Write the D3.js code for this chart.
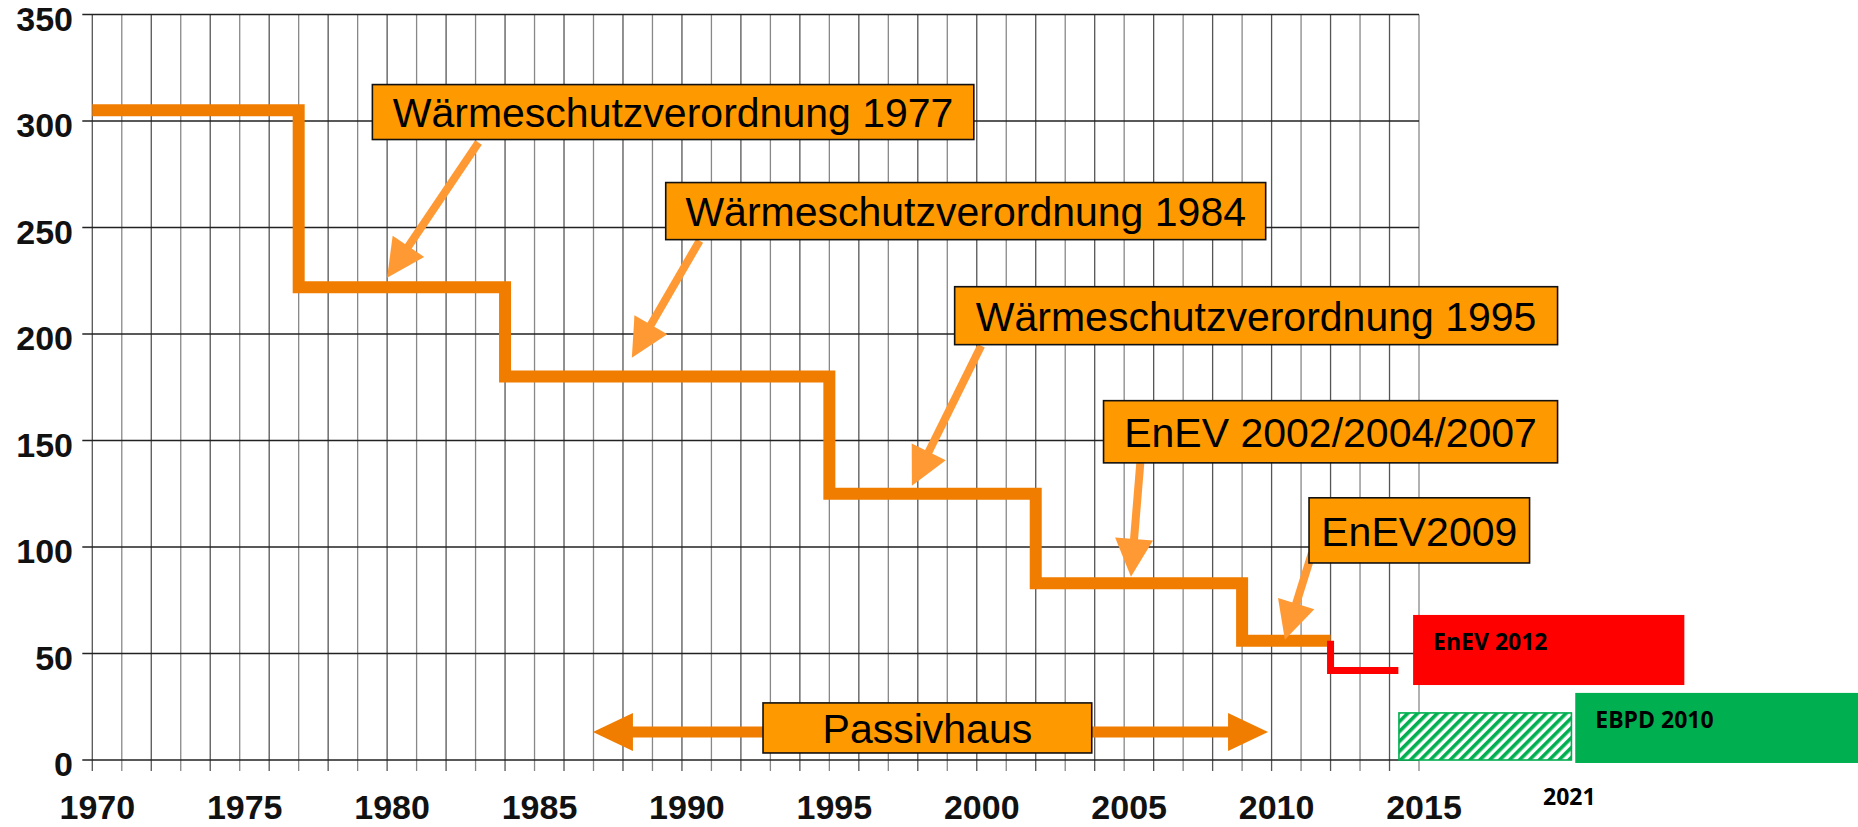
<!DOCTYPE html>
<html>
<head>
<meta charset="utf-8">
<script src="https://cdn.jsdelivr.net/npm/d3@7"></script>
<style>
  html, body { margin: 0; padding: 0; background: #fff; }
  svg { display: block; }
</style>
</head>
<body>
<svg id="chart" width="1858" height="827"></svg>
<script>
// Heizwärmebedarf nach Verordnung (kWh/m²a), Stufe gilt ab dem Jahr
const stepYears = [1970, 1977, 1984, 1995, 2002, 2009, 2012];
const stepValues = [305, 222, 180, 125, 83, 56, 56];
const enev2012Years = [2012, 2012, 2014.3];
const enev2012Values = [56, 42, 42];

const yTicks = [0, 50, 100, 150, 200, 250, 300, 350];
const xLabels = [1970, 1975, 1980, 1985, 1990, 1995, 2000, 2005, 2010, 2015];

// callouts: text, box [year from, year to, value top, value bottom], arrow [year, value -> year, value]
const calloutLabels = ["Wärmeschutzverordnung 1977", "Wärmeschutzverordnung 1984",
  "Wärmeschutzverordnung 1995", "EnEV 2002/2004/2007", "EnEV2009"];
const calloutBoxes = [[1979.5, 1999.9, 317.1, 291.3], [1989.45, 2009.8, 271.1, 244.3],
  [1999.25, 2019.7, 222.2, 195.0], [2004.3, 2019.7, 168.7, 139.5], [2011.27, 2018.75, 123.1, 92.5]];
const calloutArrows = [[1983.1, 289.9, 1980.0, 226.4], [1990.6, 243.8, 1988.3, 188.9],
  [2000.15, 194.5, 1997.8, 128.7], [2005.55, 140.0, 2005.23, 86.0], [2011.37, 97.2, 2010.45, 56.4]];

const passivLabel = "Passivhaus";
const passivBox = [1992.75, 2003.9, 26.8, 3.3];
const passivArrowTips = [1986.98, 2009.88];
const passivArrowValue = 13.2;

// rechte Seite
const enevBoxLabel = "EnEV 2012";
const enevBox = [2014.8, 2024.0, 68.1, 35.2];
const ebpdLabel = "EBPD 2010";
const ebpdBox = [2020.3, 2030.2, 31.5, -1.4];
const hatchBox = [2014.32, 2020.17, 22.1, 0];
const yearNote = "2021";
const yearNoteAt = 2020.1;

const svg = d3.select('#chart');
const x = d3.scaleLinear().domain([1970, 2015]).range([92.3, 1419]);
const y = d3.scaleLinear().domain([0, 350]).range([760, 14.5]);
const allYears = d3.range(1970, 2016);

const grid = svg.append('g');
grid.selectAll('line.v').data(allYears).enter().append('line')
  .attr('class', 'v')
  .attr('x1', d => x(d)).attr('x2', d => x(d))
  .attr('y1', y(350)).attr('y2', y(0) + 11)
  .attr('stroke', d => (d % 2 === 0 ? '#555' : '#888'))
  .attr('stroke-width', 1.3);
grid.selectAll('line.h').data(yTicks).enter().append('line')
  .attr('class', 'h')
  .attr('x1', x(1970) - 10).attr('x2', x(2015))
  .attr('y1', d => y(d)).attr('y2', d => y(d))
  .attr('stroke', '#222')
  .attr('stroke-width', 1.3);

const axisFont = '"Liberation Sans", Arial, sans-serif';
svg.append('g').selectAll('text').data(yTicks).enter().append('text')
  .attr('x', 73).attr('y', d => y(d) + 16)
  .attr('text-anchor', 'end')
  .style('font-family', axisFont).style('font-weight', 'bold').style('font-size', '34px')
  .attr('fill', '#111')
  .text(d => d);
svg.append('g').selectAll('text').data(xLabels).enter().append('text')
  .attr('x', d => x(d) + 5).attr('y', 819)
  .attr('text-anchor', 'middle')
  .style('font-family', axisFont).style('font-weight', 'bold').style('font-size', '34px')
  .attr('fill', '#111')
  .text(d => d);

// Stufenlinie
const stepLine = d3.line().x(d => x(d[0])).y(d => y(d[1])).curve(d3.curveStepAfter);
svg.append('path')
  .datum(stepYears.map((yr, i) => [yr, stepValues[i]]))
  .attr('d', stepLine)
  .attr('fill', 'none').attr('stroke', '#F07D00')
  .attr('stroke-width', 12).attr('stroke-linejoin', 'miter');
svg.append('path')
  .datum(enev2012Years.map((yr, i) => [yr, enev2012Values[i]]))
  .attr('d', d3.line().x(d => x(d[0])).y(d => y(d[1])))
  .attr('fill', 'none').attr('stroke', '#FF0000')
  .attr('stroke-width', 7).attr('stroke-linejoin', 'miter');

function arrow(g, x1, y1, x2, y2, shaft, headLen, headW, color) {
  let dx = x2 - x1, dy = y2 - y1, len = Math.hypot(dx, dy);
  let ux = dx / len, uy = dy / len, nx = -uy, ny = ux;
  let bx = x2 - ux * headLen, by = y2 - uy * headLen;
  g.append('line')
    .attr('x1', x1).attr('y1', y1).attr('x2', bx + ux * 2).attr('y2', by + uy * 2)
    .attr('stroke', color).attr('stroke-width', shaft);
  g.append('polygon')
    .attr('points', [[x2, y2], [bx + nx * headW / 2, by + ny * headW / 2], [bx - nx * headW / 2, by - ny * headW / 2]].map(p => p.join(',')).join(' '))
    .attr('fill', color);
}

const labelFont = '"Liberation Sans", Arial, sans-serif';
const arrows = svg.append('g');
calloutArrows.forEach(a => {
  arrow(arrows, x(a[0]), y(a[1]), x(a[2]), y(a[3]), 8, 38, 38, '#FF9933');
});
passivArrowTips.forEach((tip, i) => {
  let from = i === 0 ? passivBox[0] : passivBox[1];
  arrow(arrows, x(from), y(passivArrowValue), x(tip), y(passivArrowValue), 11, 40, 38, '#F07D00');
});

function box(g, b, label, fs) {
  let x0 = x(b[0]), x1 = x(b[1]), y0 = y(b[2]), y1 = y(b[3]);
  g.append('rect')
    .attr('x', x0).attr('y', y0).attr('width', x1 - x0).attr('height', y1 - y0)
    .attr('fill', '#FF9900').attr('stroke', '#111').attr('stroke-width', 1.6);
  g.append('text')
    .attr('x', (x0 + x1) / 2).attr('y', (y0 + y1) / 2 + fs * 0.37)
    .attr('text-anchor', 'middle')
    .style('font-family', labelFont).style('font-size', fs + 'px')
    .attr('fill', '#000')
    .text(label);
}
const boxes = svg.append('g');
calloutBoxes.forEach((b, i) => box(boxes, b, calloutLabels[i], 41));
box(boxes, passivBox, passivLabel, 41);

// Ausblick rechts
const defs = svg.append('defs');
const pat = defs.append('pattern')
  .attr('id', 'hatch').attr('patternUnits', 'userSpaceOnUse')
  .attr('width', 7).attr('height', 7)
  .attr('patternTransform', 'rotate(45)');
pat.append('rect').attr('width', 7).attr('height', 7).attr('fill', '#fff');
pat.append('rect').attr('width', 3.6).attr('height', 7).attr('fill', '#00B050');

const side = svg.append('g');
const noteFont = '"Open Sans", "DejaVu Sans", sans-serif';
side.append('rect')
  .attr('x', x(hatchBox[0])).attr('y', y(hatchBox[2]))
  .attr('width', x(hatchBox[1]) - x(hatchBox[0])).attr('height', y(hatchBox[3]) - y(hatchBox[2]))
  .attr('fill', 'url(#hatch)').attr('stroke', '#00B050').attr('stroke-width', 1.6);
side.append('rect')
  .attr('x', x(enevBox[0])).attr('y', y(enevBox[2]))
  .attr('width', x(enevBox[1]) - x(enevBox[0])).attr('height', y(enevBox[3]) - y(enevBox[2]))
  .attr('fill', '#FF0000');
side.append('text')
  .attr('x', x(enevBox[0]) + 20).attr('y', y(enevBox[2]) + 35)
  .style('font-family', noteFont).style('font-weight', 'bold').style('font-size', '23px')
  .attr('fill', '#000').text(enevBoxLabel);
side.append('rect')
  .attr('x', x(ebpdBox[0])).attr('y', y(ebpdBox[2]))
  .attr('width', x(ebpdBox[1]) - x(ebpdBox[0])).attr('height', y(ebpdBox[3]) - y(ebpdBox[2]))
  .attr('fill', '#00B050');
side.append('text')
  .attr('x', x(ebpdBox[0]) + 20).attr('y', y(ebpdBox[2]) + 35)
  .style('font-family', noteFont).style('font-weight', 'bold').style('font-size', '23px')
  .attr('fill', '#000').text(ebpdLabel);
side.append('text')
  .attr('x', x(yearNoteAt)).attr('y', 805)
  .attr('text-anchor', 'middle')
  .style('font-family', noteFont).style('font-weight', 'bold').style('font-size', '23px')
  .attr('fill', '#000').text(yearNote);
</script>
</body>
</html>
